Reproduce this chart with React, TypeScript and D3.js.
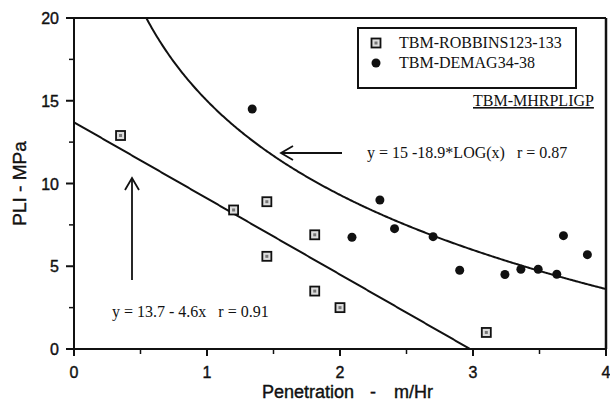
import React from "react";
import * as d3 from "d3";

const robbinsX = [0.35, 1.2, 1.45, 1.45, 1.81, 1.81, 2.0, 3.1];
const robbinsY = [12.9, 8.4, 8.9, 5.6, 6.9, 3.5, 2.5, 1.0];
const demagX = [1.34, 2.09, 2.3, 2.41, 2.7, 2.9, 3.24, 3.36, 3.49, 3.63, 3.68, 3.86];
const demagY = [14.5, 6.75, 9.0, 7.27, 6.79, 4.76, 4.5, 4.82, 4.82, 4.52, 6.85, 5.7];
const linFit = [13.7, -4.6];
const logFit = [15, -18.9];
const xTicks = [0, 1, 2, 3, 4];
const yTicks = [0, 5, 10, 15, 20];
const legendLabels = ["TBM-ROBBINS123-133", "TBM-DEMAG34-38"];

export default function App() {
  const W = 610, H = 405;
  const x = d3.scaleLinear().domain([0, 4]).range([74, 606]);
  const y = d3.scaleLinear().domain([0, 20]).range([349, 18]);
  const sans = "'Liberation Sans', Arial, sans-serif";
  const serif = "'Liberation Serif', 'Times New Roman', serif";

  const linData = d3.range(0, 2.98, 0.01).concat([-linFit[0] / linFit[1]]);
  const linLine = d3.line<number>().x(d => x(d)).y(d => y(Math.max(0, linFit[0] + linFit[1] * d)));
  const xStart = Math.pow(10, (20 - logFit[0]) / logFit[1]);
  const logData = d3.range(xStart, 4.0001, 0.01);
  const logLine = d3.line<number>().x(d => x(d)).y(d => y(logFit[0] + logFit[1] * Math.log10(d)));

  const minorX = d3.range(0.5, 4, 1);
  const minorY = d3.range(2.5, 20, 5);

  const square = (cx: number, cy: number, k: string) => (
    <g key={k}>
      <rect x={cx - 4.5} y={cy - 4.5} width={9} height={9} fill="#ddd" stroke="#111" strokeWidth={1.8} />
      <rect x={cx - 1.5} y={cy - 1.5} width={3} height={3} fill="#777" />
    </g>
  );
  const sansStyle = { fontFamily: sans, fill: "#111", stroke: "#111", strokeWidth: 0.4 } as any;

  return (
    <svg width={W} height={H} style={{ position: "absolute", left: 0, top: 0, background: "#fff" }}>
      <rect width={W} height={H} fill="#fff" />
      {/* frame */}
      <line x1={x(0)} x2={x(4)} y1={y(0)} y2={y(0)} stroke="#111" strokeWidth={2} />
      <line x1={x(0)} x2={x(0)} y1={y(0)} y2={y(20)} stroke="#111" strokeWidth={2} />
      <line x1={x(0)} x2={x(4)} y1={y(20)} y2={y(20)} stroke="#111" strokeWidth={2} />
      <line x1={x(4)} x2={x(4)} y1={y(0)} y2={y(20)} stroke="#111" strokeWidth={2.5} />
      {/* ticks */}
      {xTicks.map(t => (
        <g key={"xt" + t}>
          <line x1={x(t)} x2={x(t)} y1={y(0)} y2={y(0) + 7} stroke="#111" strokeWidth={2} />
          <text x={x(t)} y={y(0) + 29} textAnchor="middle" fontSize={16} style={sansStyle}>{t}</text>
        </g>
      ))}
      {minorX.map(t => (
        <line key={"xm" + t} x1={x(t)} x2={x(t)} y1={y(0)} y2={y(0) + 5} stroke="#111" strokeWidth={1.5} />
      ))}
      {yTicks.map(t => (
        <g key={"yt" + t}>
          <line x1={x(0) - 8} x2={x(0)} y1={y(t)} y2={y(t)} stroke="#111" strokeWidth={2} />
          <text x={x(0) - 15} y={y(t) + 6} textAnchor="end" fontSize={16} style={sansStyle}>{t}</text>
        </g>
      ))}
      {minorY.map(t => (
        <line key={"ym" + t} x1={x(0) - 5} x2={x(0)} y1={y(t)} y2={y(t)} stroke="#111" strokeWidth={1.5} />
      ))}
      {/* axis titles */}
      <text x={262} y={398} fontSize={18} style={sansStyle}>Penetration</text>
      <text x={370} y={398} fontSize={18} style={sansStyle}>-</text>
      <text x={394} y={398} fontSize={18} style={sansStyle}>m/Hr</text>
      <text transform={`translate(26,${y(10)}) rotate(-90)`} textAnchor="middle" fontSize={19} style={{ ...sansStyle, whiteSpace: "pre" }}>{"PLI - MPa"}</text>
      {/* fits */}
      <path d={linLine(linData) || ""} fill="none" stroke="#111" strokeWidth={2} />
      <path d={logLine(logData) || ""} fill="none" stroke="#111" strokeWidth={2} />
      {/* data */}
      {robbinsX.map((v, i) => square(x(v), y(robbinsY[i]), "r" + i))}
      {demagX.map((v, i) => (
        <circle key={"d" + i} cx={x(v)} cy={y(demagY[i])} r={4.5} fill="#111" />
      ))}
      {/* legend */}
      <rect x={358} y={28} width={218} height={60} fill="#fff" stroke="#111" strokeWidth={2} />
      {square(376, 43, "lg1")}
      <circle cx={376} cy={63} r={4.5} fill="#111" />
      <text x={399} y={48} fontFamily={serif} fontSize={16} fill="#111">{legendLabels[0]}</text>
      <text x={399} y={68} fontFamily={serif} fontSize={16} fill="#111">{legendLabels[1]}</text>
      <text x={473} y={106} fontFamily={serif} fontSize={16} fill="#111" textDecoration="underline">TBM-MHRPLIGP</text>
      {/* annotations */}
      <line x1={281} x2={342} y1={153} y2={153} stroke="#111" strokeWidth={1.8} />
      <polyline points="293,146 281,153 293,160" fill="none" stroke="#111" strokeWidth={1.8} />
      <text x={367} y={158} fontFamily={serif} fontSize={16} fill="#111" style={{ whiteSpace: "pre" }}>{"y = 15 -18.9*LOG(x)   r = 0.87"}</text>
      <line x1={132} x2={132} y1={178} y2={280} stroke="#111" strokeWidth={1.8} />
      <polyline points="125,190 132,178 139,190" fill="none" stroke="#111" strokeWidth={1.8} />
      <text x={112} y={317} fontFamily={serif} fontSize={16} fill="#111" style={{ whiteSpace: "pre" }}>{"y = 13.7 - 4.6x   r = 0.91"}</text>
    </svg>
  );
}
